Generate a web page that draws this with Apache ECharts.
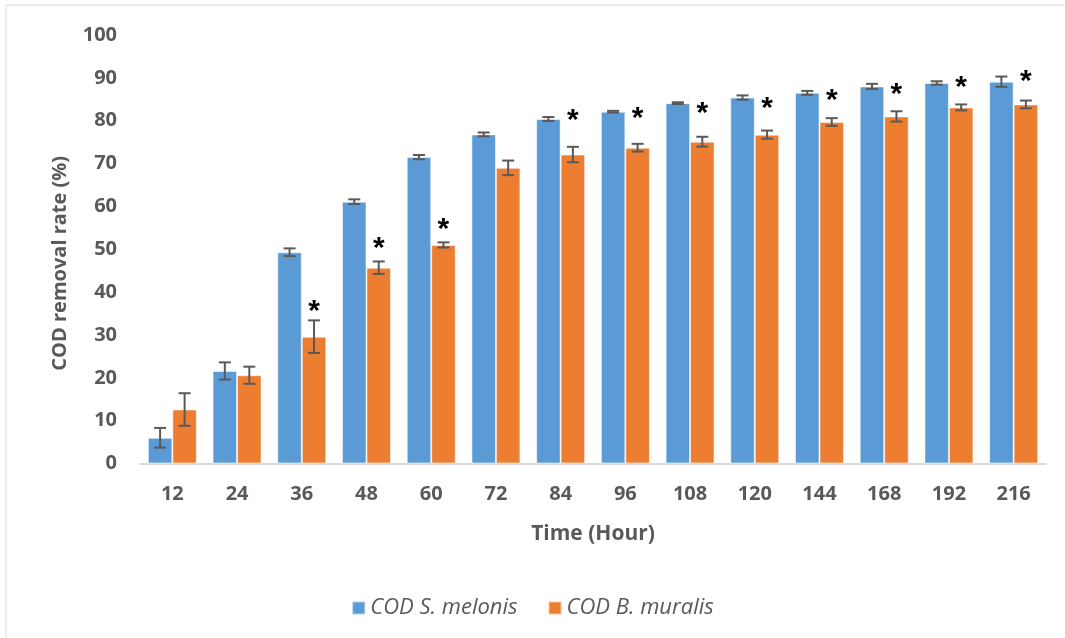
<!DOCTYPE html>
<html>
<head>
<meta charset="utf-8">
<script src="https://cdn.jsdelivr.net/npm/echarts@6/dist/echarts.min.js"></script>
<style>
  html, body { margin: 0; padding: 0; background: #ffffff; }
  #chart { width: 1065px; height: 638px; }
</style>
</head>
<body>
<div id="chart"></div>
<script>
// Sampling times (hours)
const categories = ['12', '24', '36', '48', '60', '72', '84', '96', '108', '120', '144', '168', '192', '216'];

// COD removal rate (%) and standard errors
const melonis    = [6.0, 21.6, 49.3, 61.1, 71.5, 76.8, 80.4, 82.1, 84.1, 85.4, 86.5, 88.0, 88.8, 89.1];
const melonisErr = [2.3, 2.0, 0.9, 0.55, 0.5, 0.45, 0.45, 0.2, 0.2, 0.5, 0.45, 0.6, 0.4, 1.2];
const muralis    = [12.6, 20.6, 29.6, 45.7, 51.0, 69.0, 72.1, 73.7, 75.1, 76.75, 79.7, 81.0, 83.1, 83.8];
const muralisErr = [3.8, 2.0, 3.8, 1.45, 0.6, 1.7, 1.8, 0.9, 1.15, 0.95, 0.9, 1.2, 0.7, 0.9];

// Significance markers (*) and the height they sit at, per time point
const sigLevel = [null, null, 37.0, 51.8, 56.2, null, 81.6, 82.2, 83.2, 84.5, 86.3, 87.6, 89.3, 90.8];

const yTicks = { min: 0, max: 100, interval: 10 };

const BLUE = '#5B9BD5';
const ORANGE = '#ED7D31';
const TEXT = '#595959';
const CAT_GAP = 0.243;
const FONT = '"Open Sans", "Liberation Sans", sans-serif';

function barOffset(api, side) {
  const band = api.size([1, 0])[0];
  const w = band * (1 - CAT_GAP) / 2;
  return { w: w, dx: side * w / 2 };
}

function errorRenderer(side) {
  return function (params, api) {
    const i = api.value(0);
    const lo = api.coord([i, api.value(1)]);
    const hi = api.coord([i, api.value(2)]);
    const o = barOffset(api, side);
    const x = lo[0] + o.dx;
    const cap = 6;
    const style = { stroke: TEXT, lineWidth: 2 };
    return {
      type: 'group',
      children: [
        { type: 'line', shape: { x1: x, y1: lo[1], x2: x, y2: hi[1] }, style: style },
        { type: 'line', shape: { x1: x - cap, y1: lo[1], x2: x + cap, y2: lo[1] }, style: style },
        { type: 'line', shape: { x1: x - cap, y1: hi[1], x2: x + cap, y2: hi[1] }, style: style }
      ]
    };
  };
}

function errData(vals, errs) {
  return vals.map((v, i) => [i, v - errs[i], v + errs[i]]);
}

const sigData = sigLevel
  .map((v, i) => (v == null ? null : [i, v]))
  .filter(d => d !== null);

const chart = echarts.init(document.getElementById('chart'));
chart.setOption({
  backgroundColor: '#ffffff',
  animation: false,
  textStyle: { fontFamily: FONT },
  graphic: [{
    type: 'rect',
    shape: { x: 6, y: 5, width: 1200, height: 800 },
    style: { fill: 'none', stroke: '#d9d9d9', lineWidth: 1 },
    silent: true
  }],
  grid: { left: 140, right: 19, top: 35, bottom: 174.5 },
  legend: {
    data: ['COD S. melonis', 'COD B. muralis'],
    top: 592,
    left: 'center',
    icon: 'rect',
    itemWidth: 13,
    itemHeight: 13,
    itemGap: 30,
    textStyle: { color: TEXT, fontSize: 22, fontStyle: 'italic', fontFamily: FONT }
  },
  xAxis: {
    type: 'category',
    data: categories,
    name: 'Time (Hour)',
    nameLocation: 'middle',
    nameGap: 60,
    nameTextStyle: { color: TEXT, fontSize: 21, fontWeight: 'bold', fontFamily: FONT },
    axisLine: { lineStyle: { color: '#d9d9d9', width: 2 } },
    axisTick: { show: false },
    axisLabel: { color: TEXT, fontSize: 20, fontWeight: 'bold', margin: 21, fontFamily: FONT }
  },
  yAxis: {
    type: 'value',
    min: yTicks.min,
    max: yTicks.max,
    interval: yTicks.interval,
    name: 'COD removal rate (%)',
    nameLocation: 'middle',
    nameRotate: 90,
    nameGap: 70,
    nameTextStyle: { color: TEXT, fontSize: 20, fontWeight: 'bold', fontFamily: FONT, padding: [0, 28, 0, 0] },
    axisLine: { show: false },
    axisTick: { show: false },
    splitLine: { show: false },
    axisLabel: { color: TEXT, fontSize: 20, fontWeight: 'bold', margin: 23, fontFamily: FONT }
  },
  series: [
    {
      name: 'COD S. melonis',
      type: 'bar',
      data: melonis,
      barGap: '0%',
      barCategoryGap: (CAT_GAP * 100) + '%',
      itemStyle: { color: BLUE, borderColor: 'rgba(255,255,255,0.55)', borderWidth: 1 }
    },
    {
      name: 'COD B. muralis',
      type: 'bar',
      data: muralis,
      itemStyle: { color: ORANGE, borderColor: 'rgba(255,255,255,0.55)', borderWidth: 1 }
    },
    {
      type: 'custom',
      renderItem: errorRenderer(-1),
      data: errData(melonis, melonisErr),
      encode: { x: 0, y: [1, 2] },
      z: 5
    },
    {
      type: 'custom',
      renderItem: errorRenderer(1),
      data: errData(muralis, muralisErr),
      encode: { x: 0, y: [1, 2] },
      z: 5
    },
    {
      type: 'custom',
      renderItem: function (params, api) {
        const p = api.coord([api.value(0), api.value(1)]);
        const o = barOffset(api, 1);
        return {
          type: 'text',
          style: {
            text: '*',
            x: p[0] + o.dx,
            y: p[1] + 7,
            align: 'center',
            verticalAlign: 'middle',
            fill: '#000000',
            font: 'bold 30px "Liberation Sans", sans-serif'
          }
        };
      },
      data: sigData,
      encode: { x: 0, y: 1 },
      z: 6
    }
  ]
});
</script>
</body>
</html>
